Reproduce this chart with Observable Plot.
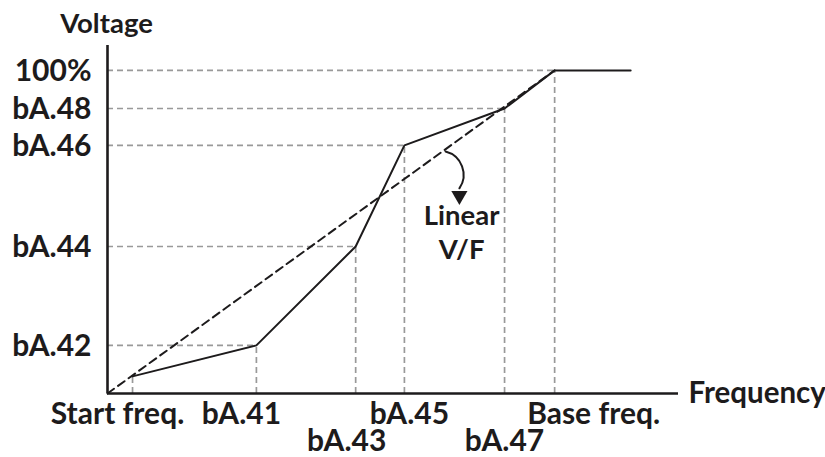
<!DOCTYPE html>
<html>
<head>
<meta charset="utf-8">
<script src="https://cdn.jsdelivr.net/npm/d3@7"></script>
<script src="https://cdn.jsdelivr.net/npm/@observablehq/plot@0.6"></script>
<style>
  html, body { margin: 0; padding: 0; background: #fff; }
  #chart svg { display: block; }
</style>
</head>
<body>
<div id="chart"></div>
<script>
// ---- data (frequency: base freq = 100; voltage: 100% = 100) ----
const freqLabels = ["Start freq.", "bA.41", "bA.43", "bA.45", "bA.47", "Base freq."];
const freqValues = [5.6, 33.3, 55.5, 66.4, 88.8, 100];
const voltLabels = ["bA.42", "bA.44", "bA.46", "bA.48", "100%"];
const voltValues = [14.9, 45.5, 76.8, 88.2, 100];
const curveFreq = [5.6, 33.3, 55.5, 66.4, 88.8, 100, 117];
const curveVolt = [5.3, 14.9, 45.5, 76.8, 88.2, 100, 100];
const linearFreq = [0, 100];
const linearVolt = [0, 100];
const xMax = 127.7;
const yMax = 107.7;
const annotation = "Linear\nV/F";
const annotationPoint = [79.2, 50.3];
const arrowFrom = [75.6, 74.9];
const arrowTo = [78.7, 63.5];
const arrowTip = [78.7, 61.2];

// ---- build tables ----
const curve = curveFreq.map((f, i) => ({f, v: curveVolt[i]}));
const linear = linearFreq.map((f, i) => ({f, v: linearVolt[i]}));
const vGrid = curve.slice(0, curve.length - 1);              // vertical guides
const hGrid = curve.slice(1, curve.length - 1);              // horizontal guides
const yTicks = voltLabels.map((label, i) => ({label, v: voltValues[i]}));
const xTicks = freqLabels.map((label, i) => ({label, f: freqValues[i]}));

const FONT = "Lato, 'Open Sans', sans-serif";
const FS = 30;
const FW = 700;
const INK = "#1d1b1c";
const xLabelDx = [-15, -15, -9, 5, 0, 39];
const xLabelDy = [0, 0, 1, 0, 1, 0];   // row index

const marks = [
  // dashed guides
  Plot.ruleX(vGrid, {x: "f", y1: 0, y2: "v", stroke: "#999", strokeWidth: 1.7, strokeDasharray: "6,4"}),
  Plot.ruleY(hGrid, {y: "v", x1: 0, x2: "f", stroke: "#999", strokeWidth: 1.7, strokeDasharray: "6,4"}),
  // linear V/F
  Plot.line(linear, {x: "f", y: "v", stroke: INK, strokeWidth: 2, strokeDasharray: "8,5"}),
  // custom V/F
  Plot.line(curve, {x: "f", y: "v", stroke: INK, strokeWidth: 2}),
  // axes
  Plot.ruleX([0], {y1: 0, y2: yMax, stroke: INK, strokeWidth: 2.6}),
  Plot.ruleY([0], {x1: 0, x2: xMax, stroke: INK, strokeWidth: 2.6}),
  // y labels
  Plot.text(yTicks, {x: 0, y: "v", text: "label", textAnchor: "end", dx: -16, dy: 1,
    fontSize: FS, fontWeight: FW, fontFamily: FONT, fill: INK}),
  // axis titles
  Plot.text(["Voltage"], {x: 0, y: yMax, text: d => d, dy: -21, dx: -1, textAnchor: "middle",
    fontSize: 27.5, fontWeight: FW, fontFamily: FONT, fill: INK}),
  Plot.text(["Frequency"], {x: xMax, y: 0, text: d => d, dx: 10, dy: 0, textAnchor: "start",
    fontSize: 29.5, fontWeight: FW, fontFamily: FONT, fill: INK}),
  // annotation
  Plot.arrow([0], {x1: () => arrowFrom[0], y1: () => arrowFrom[1], x2: () => arrowTo[0], y2: () => arrowTo[1],
    bend: 55, headLength: 0, stroke: INK, strokeWidth: 2}),
  Plot.dot([0], {x: () => arrowTip[0], y: () => arrowTip[1], symbol: "triangle", rotate: 180, r: 6, fill: INK, stroke: null}),
  Plot.text([annotation], {x: () => annotationPoint[0], y: () => annotationPoint[1], text: d => d,
    textAnchor: "middle", lineHeight: 1.24, fontSize: 27.5, fontWeight: FW, fontFamily: FONT, fill: INK})
];

// x labels, one mark each so each can be nudged
xTicks.forEach((t, i) => {
  marks.push(Plot.text([t], {x: "f", y: 0, text: "label", textAnchor: "middle", lineAnchor: "top",
    dx: xLabelDx[i], dy: 9 + xLabelDy[i] * 27,
    fontSize: FS, fontWeight: FW, fontFamily: FONT, fill: INK}));
});

const chart = Plot.plot({
  width: 825,
  height: 457,
  marginLeft: 107,
  marginRight: 147,
  marginTop: 45,
  marginBottom: 64,
  x: {domain: [0, xMax], axis: null},
  y: {domain: [0, yMax], axis: null},
  style: {fontFamily: FONT, background: "#fff"},
  marks
});
document.getElementById("chart").appendChild(chart);
</script>
</body>
</html>
